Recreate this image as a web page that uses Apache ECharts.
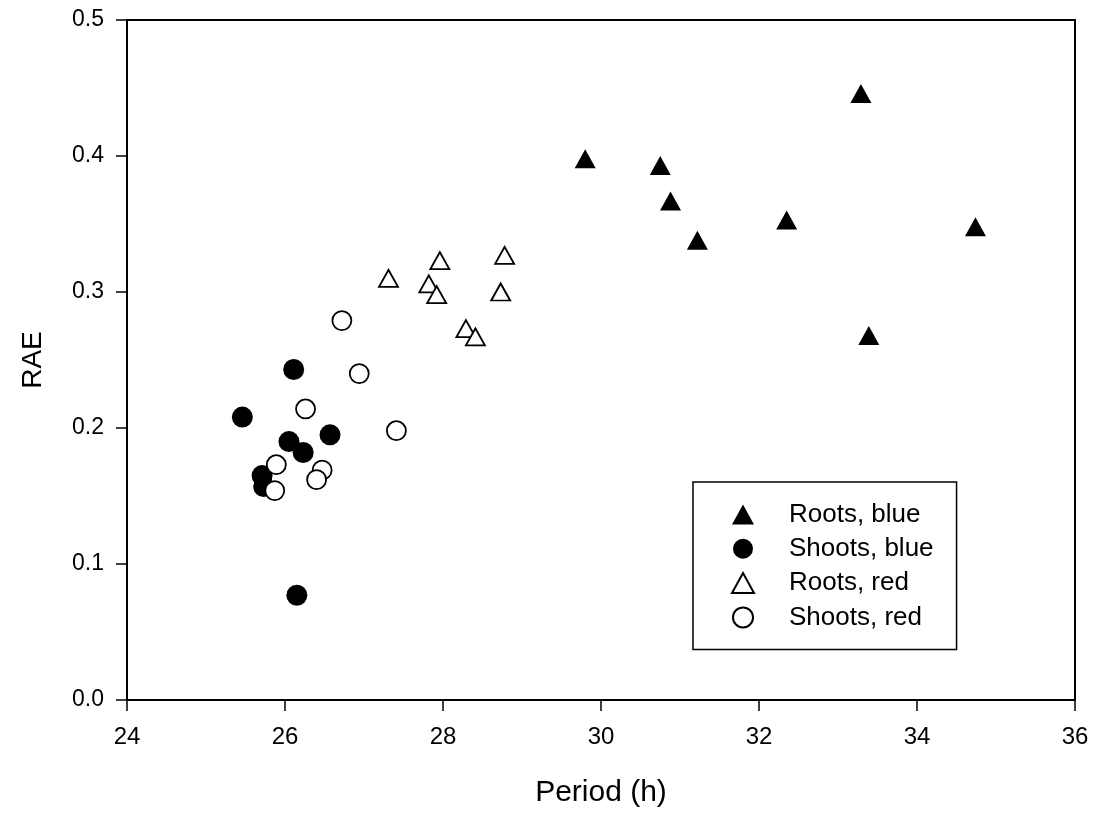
<!DOCTYPE html>
<html>
<head>
<meta charset="utf-8">
<script src="https://cdn.jsdelivr.net/npm/echarts@6/dist/echarts.min.js"></script>
<style>html,body{margin:0;padding:0;background:#fff}#c{width:1094px;height:816px}</style>
</head>
<body>
<div id="c"></div>
<script>
const rootsBlueX = [29.80, 30.75, 30.88, 31.22, 32.35, 33.29, 34.74, 33.39];
const rootsBlueY = [0.398, 0.393, 0.367, 0.338, 0.353, 0.446, 0.348, 0.268];
const shootsBlueX = [26.11, 25.46, 26.05, 26.23, 26.57, 25.71, 25.73, 26.15];
const shootsBlueY = [0.243, 0.208, 0.190, 0.182, 0.195, 0.165, 0.157, 0.077];
const rootsRedX = [27.31, 27.96, 27.82, 27.92, 28.78, 28.73, 28.29, 28.41];
const rootsRedY = [0.310, 0.323, 0.306, 0.298, 0.327, 0.300, 0.273, 0.267];
const shootsRedX = [26.72, 26.94, 26.26, 27.41, 25.89, 26.47, 26.40, 25.87];
const shootsRedY = [0.279, 0.240, 0.214, 0.198, 0.173, 0.169, 0.162, 0.154];
const seriesNames = ['Roots, blue', 'Shoots, blue', 'Roots, red', 'Shoots, red'];
const xTitle = 'Period (h)';
const yTitle = 'RAE';

const FONT = '"Liberation Sans", Arial, sans-serif';
const zip = (xs, ys) => xs.map((x, i) => [x, ys[i]]);

const chart = echarts.init(document.getElementById('c'), null, {renderer: 'canvas'});
chart.setOption({
  animation: false,
  backgroundColor: '#fff',
  grid: {left: 127, right: 19, top: 20, bottom: 116, show: true, borderColor: '#000', borderWidth: 2, backgroundColor: 'transparent'},
  xAxis: {
    type: 'value', min: 24, max: 36, interval: 2,
    name: xTitle, nameLocation: 'middle', nameGap: 78,
    nameTextStyle: {fontFamily: FONT, fontSize: 30, color: '#000'},
    axisLine: {show: true, onZero: false, lineStyle: {color: '#000', width: 2}},
    axisTick: {show: true, inside: false, length: 11, lineStyle: {color: '#000', width: 1.5}},
    axisLabel: {fontFamily: FONT, fontSize: 24, color: '#000', margin: 25},
    splitLine: {show: false}
  },
  yAxis: {
    type: 'value', min: 0, max: 0.5, interval: 0.1,
    name: yTitle, nameLocation: 'middle', nameGap: 80, nameRotate: 90,
    nameTextStyle: {fontFamily: FONT, fontSize: 28, color: '#000'},
    axisLine: {show: true, onZero: false, lineStyle: {color: '#000', width: 2}},
    axisTick: {show: true, inside: false, length: 11, lineStyle: {color: '#000', width: 1.5}},
    axisLabel: {fontFamily: FONT, fontSize: 23, color: '#000', margin: 23, formatter: v => v.toFixed(1)},
    splitLine: {show: false}
  },
  legend: {
    orient: 'vertical', left: 693, top: 482,
    data: seriesNames,
    itemWidth: 22, itemHeight: 20, itemGap: 8.3,
    padding: [19.5, 23, 19, 38],
    borderColor: '#000', borderWidth: 1.5, borderRadius: 0,
    backgroundColor: '#fff',
    textStyle: {fontFamily: FONT, fontSize: 26, color: '#000', padding: [0, 0, 0, 30]}
  },
  series: [
    {name: seriesNames[0], type: 'scatter', data: zip(rootsBlueX, rootsBlueY), symbol: 'triangle', symbolSize: [21, 19],
     itemStyle: {color: '#000', borderWidth: 0, opacity: 1}},
    {name: seriesNames[1], type: 'scatter', data: zip(shootsBlueX, shootsBlueY), symbol: 'circle', symbolSize: 21,
     itemStyle: {color: '#000', borderWidth: 0, opacity: 1}},
    {name: seriesNames[2], type: 'scatter', data: zip(rootsRedX, rootsRedY), symbol: 'triangle', symbolSize: [19, 17],
     itemStyle: {color: '#fff', borderColor: '#000', borderWidth: 1.8, opacity: 1}},
    {name: seriesNames[3], type: 'scatter', data: zip(shootsRedX, shootsRedY), symbol: 'circle', symbolSize: 19,
     itemStyle: {color: '#fff', borderColor: '#000', borderWidth: 1.8, opacity: 1}}
  ]
});
</script>
</body>
</html>
